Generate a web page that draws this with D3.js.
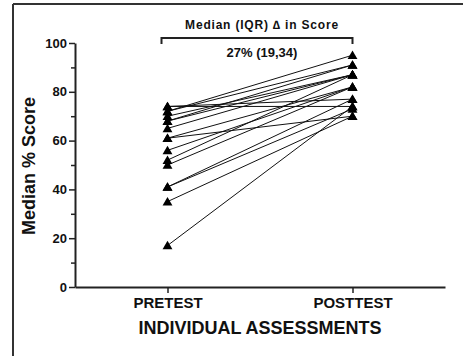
<!DOCTYPE html>
<html>
<head>
<meta charset="utf-8">
<script src="https://cdn.jsdelivr.net/npm/d3@7"></script>
<style>
  body { margin: 0; background: #fff; }
  svg { display: block; font-family: Arial, "Liberation Sans", sans-serif; font-weight: bold; }
  .axis path, .axis line { stroke: #222; }
  .axis text { fill: #111; font-family: Arial, "Liberation Sans", sans-serif; font-weight: bold; }
</style>
</head>
<body>
<svg width="463" height="356"></svg>
<script>
// time points and paired scores (median % score per participant)
const timepoints = ["PRETEST", "POSTTEST"];
const pretest  = [74, 74, 72, 72, 70, 68, 68, 65, 61, 61, 56, 52, 50, 41, 41, 35, 17];
const posttest = [74, 77, 95, 91, 87, 87, 91, 87, 82, 70, 82, 87, 82, 77, 73, 70, 74];
const yMajor = [0, 20, 40, 60, 80, 100];
const yMinor = [10, 30, 50, 70, 90];
const bracketLabel = "Median (IQR) \u2206 in Score";
const bracketValue = "27% (19,34)";

const svg = d3.select("svg");

// frame (only top and left edges show)
svg.append("line").attr("x1", 13).attr("y1", 4).attr("x2", 463).attr("y2", 4)
	.attr("stroke", "#333").attr("stroke-width", 2);
svg.append("line").attr("x1", 13).attr("y1", 4).attr("x2", 13).attr("y2", 356)
	.attr("stroke", "#333").attr("stroke-width", 2);

const x = d3.scalePoint()
	.domain(timepoints)
	.range([75, 445])
	.padding(0.5);

const y = d3.scaleLinear()
	.domain([0, 100])
	.range([287, 43]);

// y axis - minor ticks first, then major with labels
svg.append("g")
	.attr("class", "axis")
	.attr("transform", "translate(75,0)")
	.call(d3.axisLeft(y).tickValues(yMinor).tickSize(4).tickFormat(""))
	.call(g => g.select(".domain").remove())
	.selectAll("line").attr("stroke-width", 1.5);

const yAx = svg.append("g")
	.attr("class", "axis")
	.attr("transform", "translate(75,0)")
	.call(d3.axisLeft(y).tickValues(yMajor).tickSize(6).tickSizeOuter(0).tickPadding(2));
yAx.select(".domain").attr("stroke-width", 2);
yAx.selectAll("line").attr("stroke-width", 1.5);
yAx.selectAll("text").style("font-size", "13px");

const xAx = svg.append("g")
	.attr("class", "axis")
	.attr("transform", "translate(0,287)")
	.call(d3.axisBottom(x).tickSize(6).tickSizeOuter(0).tickPadding(4));
xAx.select(".domain").attr("stroke-width", 2);
xAx.selectAll("line").attr("stroke-width", 1.5);
xAx.selectAll("text").style("font-size", "15px");

// axis titles
svg.append("text")
	.attr("x", 260).attr("y", 334)
	.attr("text-anchor", "middle")
	.style("font-size", "18px")
	.attr("fill", "#111")
	.text("INDIVIDUAL ASSESSMENTS");

svg.append("text")
	.attr("transform", "translate(35,166) rotate(-90)")
	.attr("text-anchor", "middle")
	.style("font-size", "18px")
	.attr("fill", "#111")
	.text("Median % Score");

// paired lines
const pairs = pretest.map((v, i) => ({ pre: v, post: posttest[i] }));

svg.append("g")
	.selectAll("line")
	.data(pairs)
	.enter().append("line")
	.attr("x1", x("PRETEST"))
	.attr("y1", d => y(d.pre))
	.attr("x2", x("POSTTEST"))
	.attr("y2", d => y(d.post))
	.attr("stroke", "#111")
	.attr("stroke-width", 1);

// triangle markers
const tri = d3.symbol().type(d3.symbolTriangle).size(42);
const pts = [];
pairs.forEach(d => {
	pts.push({ t: "PRETEST", v: d.pre });
	pts.push({ t: "POSTTEST", v: d.post });
});
svg.append("g")
	.selectAll("path")
	.data(pts)
	.enter().append("path")
	.attr("d", tri)
	.attr("transform", d => "translate(" + x(d.t) + "," + (y(d.v) + 1) + ")")
	.attr("fill", "#000");

// bracket with median change
const bx1 = x("PRETEST") - 6, bx2 = x("POSTTEST");
svg.append("path")
	.attr("d", "M" + bx1 + ",44V38H" + bx2 + "V44")
	.attr("fill", "none")
	.attr("stroke", "#222")
	.attr("stroke-width", 2);

svg.append("text")
	.attr("x", 262).attr("y", 29)
	.attr("text-anchor", "middle")
	.style("font-size", "12px")
	.style("letter-spacing", "0.8px")
	.attr("fill", "#111")
	.text(bracketLabel);

svg.append("text")
	.attr("x", 262).attr("y", 57)
	.attr("text-anchor", "middle")
	.style("font-size", "13px")
	.attr("fill", "#111")
	.text(bracketValue);
</script>
</body>
</html>
